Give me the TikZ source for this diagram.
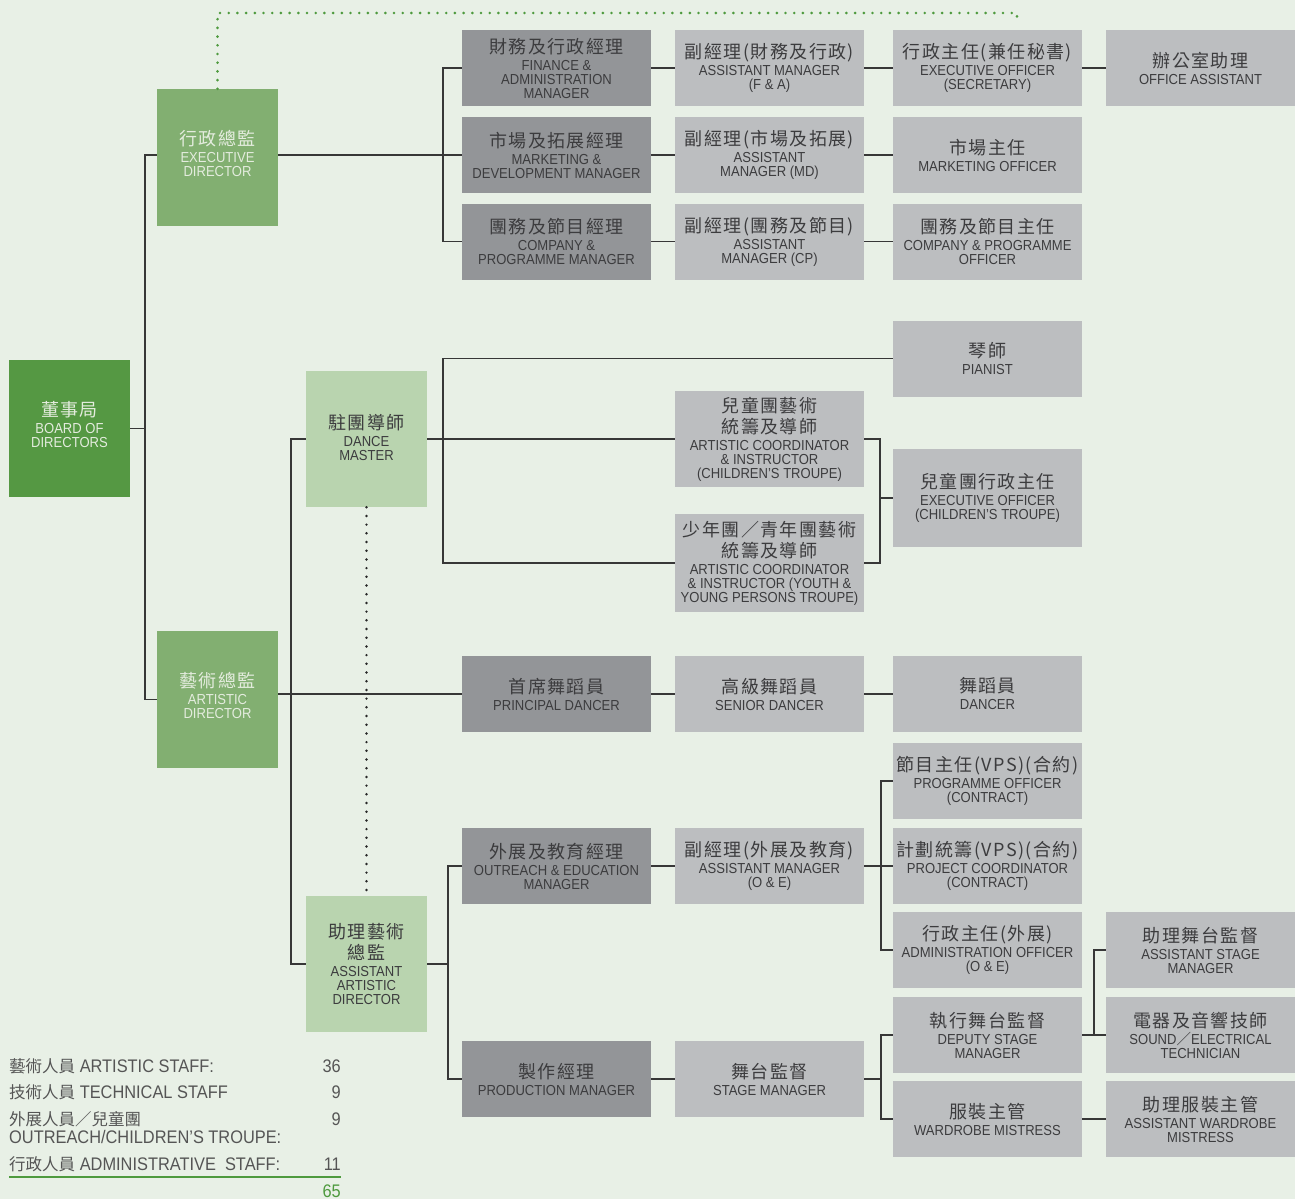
\documentclass[tikz,border=0pt]{standalone}
\usepackage{fontspec}
\setmainfont[FakeStretch=0.9]{Liberation Sans}
\newfontfamily\cjk[LetterSpace=8]{Noto Sans CJK TC}
\newfontfamily\cjkp{Noto Sans CJK TC}
\newcommand\zh[1]{{\cjk\fontsize{18}{18}\selectfont #1}}
\newcommand\zhl[1]{{\cjkp\fontsize{16.5}{16.5}\selectfont #1}}
\definecolor{bgc}{RGB}{232,240,230}
\definecolor{boardc}{RGB}{85,152,67}
\definecolor{dirc}{RGB}{130,175,113}
\definecolor{lgc}{RGB}{185,212,175}
\definecolor{dgray}{RGB}{147,149,152}
\definecolor{lgray}{RGB}{188,190,192}
\definecolor{txtc}{RGB}{60,60,62}
\definecolor{ltxt}{RGB}{228,236,222}
\definecolor{linec}{RGB}{55,55,55}
\definecolor{dotg}{RGB}{78,154,62}
\definecolor{legc}{RGB}{85,85,85}
\begin{document}
\begin{tikzpicture}[x=1pt,y=-1pt,
  box/.style={inner sep=0pt, align=center, text=txtc, font=\fontsize{14.5}{14}\selectfont},
  dbox/.style={box, fill=dgray, minimum width=189pt, minimum height=76pt},
  gbox/.style={box, fill=lgray, minimum width=189pt, minimum height=76pt},
  dirbox/.style={box, fill=dirc, text=ltxt, minimum width=121pt, minimum height=137pt},
  lgbox/.style={box, fill=lgc, minimum width=121pt, minimum height=136pt},
  conn/.style={draw=linec, line width=1.3pt},
  gdot/.style={draw=dotg, line width=2.9pt, line cap=round, dash pattern=on 0pt off 8.7pt},
  bdot/.style={draw=black!85, line width=2.7pt, line cap=round, dash pattern=on 0pt off 8.7pt},
  leg/.style={inner sep=0pt, text=legc, font=\fontsize{18.2}{18}\selectfont}
]
\useasboundingbox (0,0) rectangle (1295,1199);
\fill[bgc] (0,0) rectangle (1295,1199);

% left column
\node[dirbox, fill=boardc] (bod) at (69.5,428.5) {\zh{董事局}\\[3pt]BOARD OF\\DIRECTORS\\[-6pt]\mbox{}};
\node[dirbox] (ed) at (217.5,157.5) {\zh{行政總監}\\[3pt]EXECUTIVE\\DIRECTOR\\[-6pt]\mbox{}};
\node[dirbox] (ad) at (217.5,699.5) {\zh{藝術總監}\\[3pt]ARTISTIC\\DIRECTOR\\[-6pt]\mbox{}};
\node[lgbox] (dm) at (366.5,439) {\zh{駐團導師}\\[3pt]DANCE\\MASTER\\[-10pt]\mbox{}};
\node[lgbox] (aad) at (366.5,964) {\zh{助理藝術}\\[3pt]\zh{總監}\\[3pt]ASSISTANT\\ARTISTIC\\DIRECTOR};

% administration rows
\node[dbox] (fam) at (556.5,68) {\zh{財務及行政經理}\\[3pt]FINANCE \&\\ADMINISTRATION\\MANAGER};
\node[gbox] (amfa) at (769.5,68) {\zh{副經理(財務及行政)}\\[3pt]ASSISTANT MANAGER\\(F \& A)};
\node[gbox] (eos) at (987.5,68) {\zh{行政主任(兼任秘書)}\\[3pt]EXECUTIVE OFFICER\\(SECRETARY)};
\node[gbox] (oa) at (1200.5,68) {\zh{辦公室助理}\\[3pt]OFFICE ASSISTANT};
\node[dbox] (mdm) at (556.5,155) {\zh{市場及拓展經理}\\[3pt]MARKETING \&\\DEVELOPMENT MANAGER};
\node[gbox] (amd) at (769.5,155) {\zh{副經理(市場及拓展)}\\[3pt]ASSISTANT\\MANAGER (MD)};
\node[gbox] (mo) at (987.5,155) {\zh{市場主任}\\[3pt]MARKETING OFFICER};
\node[dbox] (cpm) at (556.5,241.5) {\zh{團務及節目經理}\\[3pt]COMPANY \&\\PROGRAMME MANAGER};
\node[gbox] (acp) at (769.5,241.5) {\zh{副經理(團務及節目)}\\[3pt]ASSISTANT\\MANAGER (CP)};
\node[gbox] (cpo) at (987.5,241.5) {\zh{團務及節目主任}\\[3pt]COMPANY \& PROGRAMME\\OFFICER};

% dance master branch
\node[gbox] (pia) at (987.5,358.5) {\zh{琴師}\\[3pt]PIANIST};
\node[gbox, minimum height=96pt] (acc) at (769.5,439) {\zh{兒童團藝術}\\[3pt]\zh{統籌及導師}\\[3pt]ARTISTIC COORDINATOR\\\& INSTRUCTOR\\(CHILDREN’S TROUPE)};
\node[gbox, minimum height=98pt] (ayc) at (769.5,563) {\zh{少年團／青年團藝術}\\[3pt]\zh{統籌及導師}\\[3pt]ARTISTIC COORDINATOR\\\& INSTRUCTOR (YOUTH \&\\YOUNG PERSONS TROUPE)};
\node[gbox, minimum height=98pt] (eoc) at (987.5,498) {\zh{兒童團行政主任}\\[3pt]EXECUTIVE OFFICER\\(CHILDREN’S TROUPE)};

% dancers
\node[dbox] (pd) at (556.5,694) {\zh{首席舞蹈員}\\[3pt]PRINCIPAL DANCER};
\node[gbox] (sd) at (769.5,694) {\zh{高級舞蹈員}\\[3pt]SENIOR DANCER};
\node[gbox] (dan) at (987.5,694) {\zh{舞蹈員}\\[3pt]DANCER};

% outreach and production
\node[gbox] (po) at (987.5,781) {\zh{節目主任(VPS)(合約)}\\[3pt]PROGRAMME OFFICER\\(CONTRACT)};
\node[dbox] (oem) at (556.5,866) {\zh{外展及教育經理}\\[3pt]OUTREACH \& EDUCATION\\MANAGER};
\node[gbox] (aoe) at (769.5,866) {\zh{副經理(外展及教育)}\\[3pt]ASSISTANT MANAGER\\(O \& E)};
\node[gbox] (pc) at (987.5,866) {\zh{計劃統籌(VPS)(合約)}\\[3pt]PROJECT COORDINATOR\\(CONTRACT)};
\node[gbox] (ao) at (987.5,950) {\zh{行政主任(外展)}\\[3pt]ADMINISTRATION OFFICER\\(O \& E)};
\node[gbox] (asm) at (1200.5,950) {\zh{助理舞台監督}\\[3pt]ASSISTANT STAGE\\MANAGER};
\node[gbox] (dsm) at (987.5,1035) {\zh{執行舞台監督}\\[3pt]DEPUTY STAGE\\MANAGER};
\node[gbox] (set) at (1200.5,1035) {\zh{電器及音響技師}\\[3pt]SOUND{\cjkp ／}ELECTRICAL\\TECHNICIAN};
\node[dbox] (pm) at (556.5,1079) {\zh{製作經理}\\[3pt]PRODUCTION MANAGER};
\node[gbox] (sm) at (769.5,1079) {\zh{舞台監督}\\[3pt]STAGE MANAGER};
\node[gbox] (wm) at (987.5,1119) {\zh{服裝主管}\\[3pt]WARDROBE MISTRESS};
\node[gbox] (awm) at (1200.5,1119) {\zh{助理服裝主管}\\[3pt]ASSISTANT WARDROBE\\MISTRESS};

% bus coordinates
\coordinate (t1) at (145,0);
\coordinate (t2) at (291,0);
\coordinate (t3) at (443,0);
\coordinate (t4) at (880,0);
\coordinate (t5) at (448,0);
\coordinate (t6) at (881,0);
\coordinate (t7) at (1094,0);
\coordinate (gc) at (0,13);
\coordinate (ge) at (1017,22);

% connectors
\draw[conn] (bod.east) -- (bod.east -| t1);
\draw[conn] (ed.west |- mdm.west) -- (mdm.west -| t1) -- (ad.west -| t1) -- (ad.west);
\draw[conn] (ed.east |- mdm.west) -- (mdm.west);
\draw[conn] (fam.west) -- (fam.west -| t3) -- (cpm.west -| t3) -- (cpm.west);
\draw[conn] (fam.east) -- (amfa.west);
\draw[conn] (amfa.east) -- (eos.west);
\draw[conn] (eos.east) -- (oa.west);
\draw[conn] (mdm.east) -- (amd.west);
\draw[conn] (amd.east) -- (mo.west);
\draw[conn] (cpm.east) -- (acp.west);
\draw[conn] (acp.east) -- (cpo.west);

\draw[conn] (ad.east |- pd.west) -- (pd.west);
\draw[conn] (dm.west) -- (dm.west -| t2) -- (aad.west -| t2) -- (aad.west);
\draw[conn] (dm.east) -- (acc.west);
\draw[conn] (pia.west) -- (pia.west -| t3) -- (ayc.west -| t3) -- (ayc.west);
\draw[conn] (acc.east) -- (acc.east -| t4) -- (ayc.east -| t4) -- (ayc.east);
\draw[conn] (eoc.west) -- (eoc.west -| t4);

\draw[conn] (pd.east) -- (sd.west);
\draw[conn] (sd.east) -- (dan.west);

\draw[conn] (aad.east) -- (aad.east -| t5);
\draw[conn] (oem.west) -- (oem.west -| t5) -- (pm.west -| t5) -- (pm.west);
\draw[conn] (oem.east) -- (aoe.west);
\draw[conn] (aoe.east) -- (pc.west);
\draw[conn] (po.west) -- (po.west -| t6) -- (ao.west -| t6) -- (ao.west);
\draw[conn] (pm.east) -- (sm.west);
\draw[conn] (sm.east) -- (sm.east -| t6);
\draw[conn] (dsm.west) -- (dsm.west -| t6) -- (wm.west -| t6) -- (wm.west);
\draw[conn] (dsm.east) -- (set.west);
\draw[conn] (asm.west) -- (asm.west -| t7) -- (dsm.east -| t7);
\draw[conn] (wm.east) -- (awm.west);

% dotted lines
\draw[gdot] (ed.north) |- (ge |- gc) -- (ge);
\draw[bdot] (dm.south) -- (aad.north);

% legend
\node[leg, anchor=base west] (l1) at (9,1072) {\zhl{藝術人員} ARTISTIC STAFF:};
\node[leg, anchor=base east] (n1) at (341,1072) {36};
\node[leg, anchor=base west] (l2) at (9,1098) {\zhl{技術人員} TECHNICAL STAFF};
\node[leg, anchor=base east] (n2) at (341,1098) {9};
\node[leg, anchor=base west] (l3) at (9,1125) {\zhl{外展人員／兒童團}};
\node[leg, anchor=base west] (l3b) at (9,1143) {OUTREACH/CHILDREN’S TROUPE:};
\node[leg, anchor=base east] (n3) at (341,1125) {9};
\node[leg, anchor=base west] (l4) at (9,1170) {\zhl{行政人員} ADMINISTRATIVE\ \ STAFF:};
\node[leg, anchor=base east] (n4) at (341,1170) {11};
\coordinate (ls) at (9,1177);
\coordinate (le) at (341,1177);
\draw[draw=dotg, line width=2pt] (ls) -- (le);
\node[leg, anchor=base east, text=dotg] (tot) at (341,1197) {65};
\end{tikzpicture}
\end{document}
